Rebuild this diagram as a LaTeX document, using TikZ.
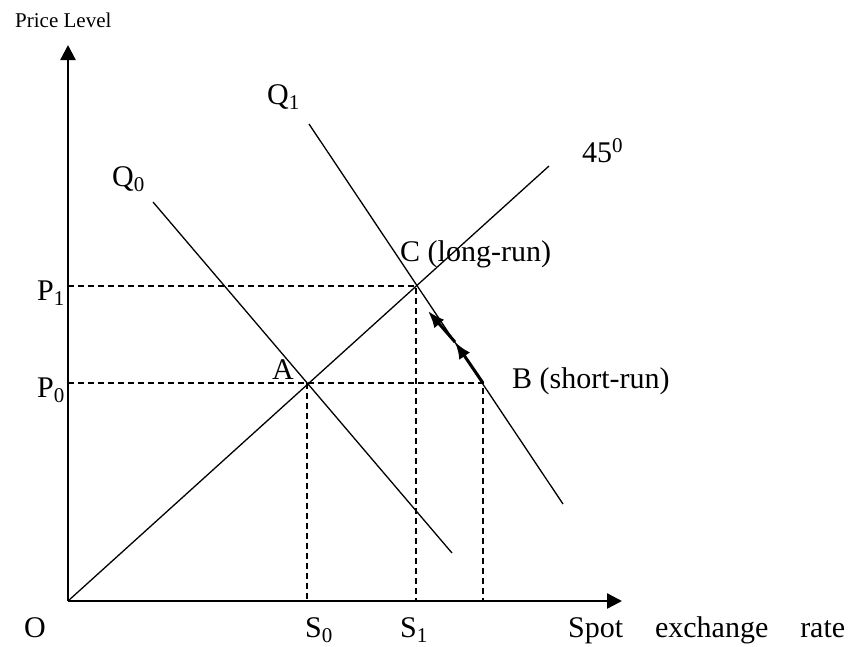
\documentclass[tikz,border=0pt]{standalone}
\usepackage{fontspec}
\setmainfont{Liberation Serif}
\usetikzlibrary{arrows.meta, positioning}

\begin{document}
\begin{tikzpicture}[
  x=1pt, y=-1pt,
  axis/.style={line width=2.4pt, -{Triangle[length=15pt, width=15pt]}},
  curve/.style={line width=1.3pt},
  guide/.style={line width=1.3pt, dash pattern=on 6pt off 4pt},
  move/.style={line width=3pt, -{Latex[length=17pt, width=13pt]}},
  lbl/.style={font=\fontsize{30}{34}\selectfont, inner sep=0pt, anchor=base west}]
\useasboundingbox (0,0) rectangle (859,646);
% points of the diagram
\coordinate (O) at (68,601);
\coordinate (ytop) at (68,45);
\coordinate (xend) at (622,601);
\coordinate (top45) at (549,166);
\coordinate (q0top) at (153,202);
\coordinate (q0bot) at (452,553);
\coordinate (q1top) at (309,124);
\coordinate (q1bot) at (563,504);
\coordinate (A) at (307,383);
\coordinate (C) at (416,286);
\coordinate (B) at (483,383);
\coordinate (p0) at (68,383);
\coordinate (p1) at (68,286);
\coordinate (s0) at (307,601);
\coordinate (s1) at (416,601);
\coordinate (sb) at (483,601);
\coordinate (mid) at (455,342);
\coordinate (end) at (428,311);
% axes and lines
\draw[axis] (O) -- (ytop);
\draw[axis] (O) -- (xend);
\draw[curve] (O) -- (top45);
\draw[curve] (q0top) -- (q0bot);
\draw[curve] (q1top) -- (q1bot);
\draw[guide] (p1) -- (C) -- (s1);
\draw[guide] (p0) -- (A) -- (B) -- (sb);
\draw[guide] (A) -- (s0);
\draw[move] (B) -- (mid);
\draw[move] (mid) -- (end);
% labels
\node[lbl, font=\fontsize{21}{24}\selectfont] (lblprice) at (15,27) {Price Level};
\node[lbl] (lblQ1) at (267,104) {Q\textsubscript{1}};
\node[lbl] (lblQ0) at (112,186) {Q\textsubscript{0}};
\node[lbl] (lbl45) at (582,162) {45\textsuperscript{0}};
\node[lbl] (lblC) at (400,261) {C (long-run)};
\node[lbl] (lblB) at (512,388) {B (short-run)};
\node[lbl] (lblA) at (272,379) {A};
\node[lbl] (lblP1) at (37,300) {P\textsubscript{1}};
\node[lbl] (lblP0) at (37,397) {P\textsubscript{0}};
\node[lbl] (lblO) at (24,637) {O};
\node[lbl] (lblS0) at (305,637) {S\textsubscript{0}};
\node[lbl] (lblS1) at (400,637) {S\textsubscript{1}};
\node[lbl, text width=277pt] (lblspot) at (568,637) {Spot\hfill exchange\hfill rate};
\end{tikzpicture}
\end{document}
